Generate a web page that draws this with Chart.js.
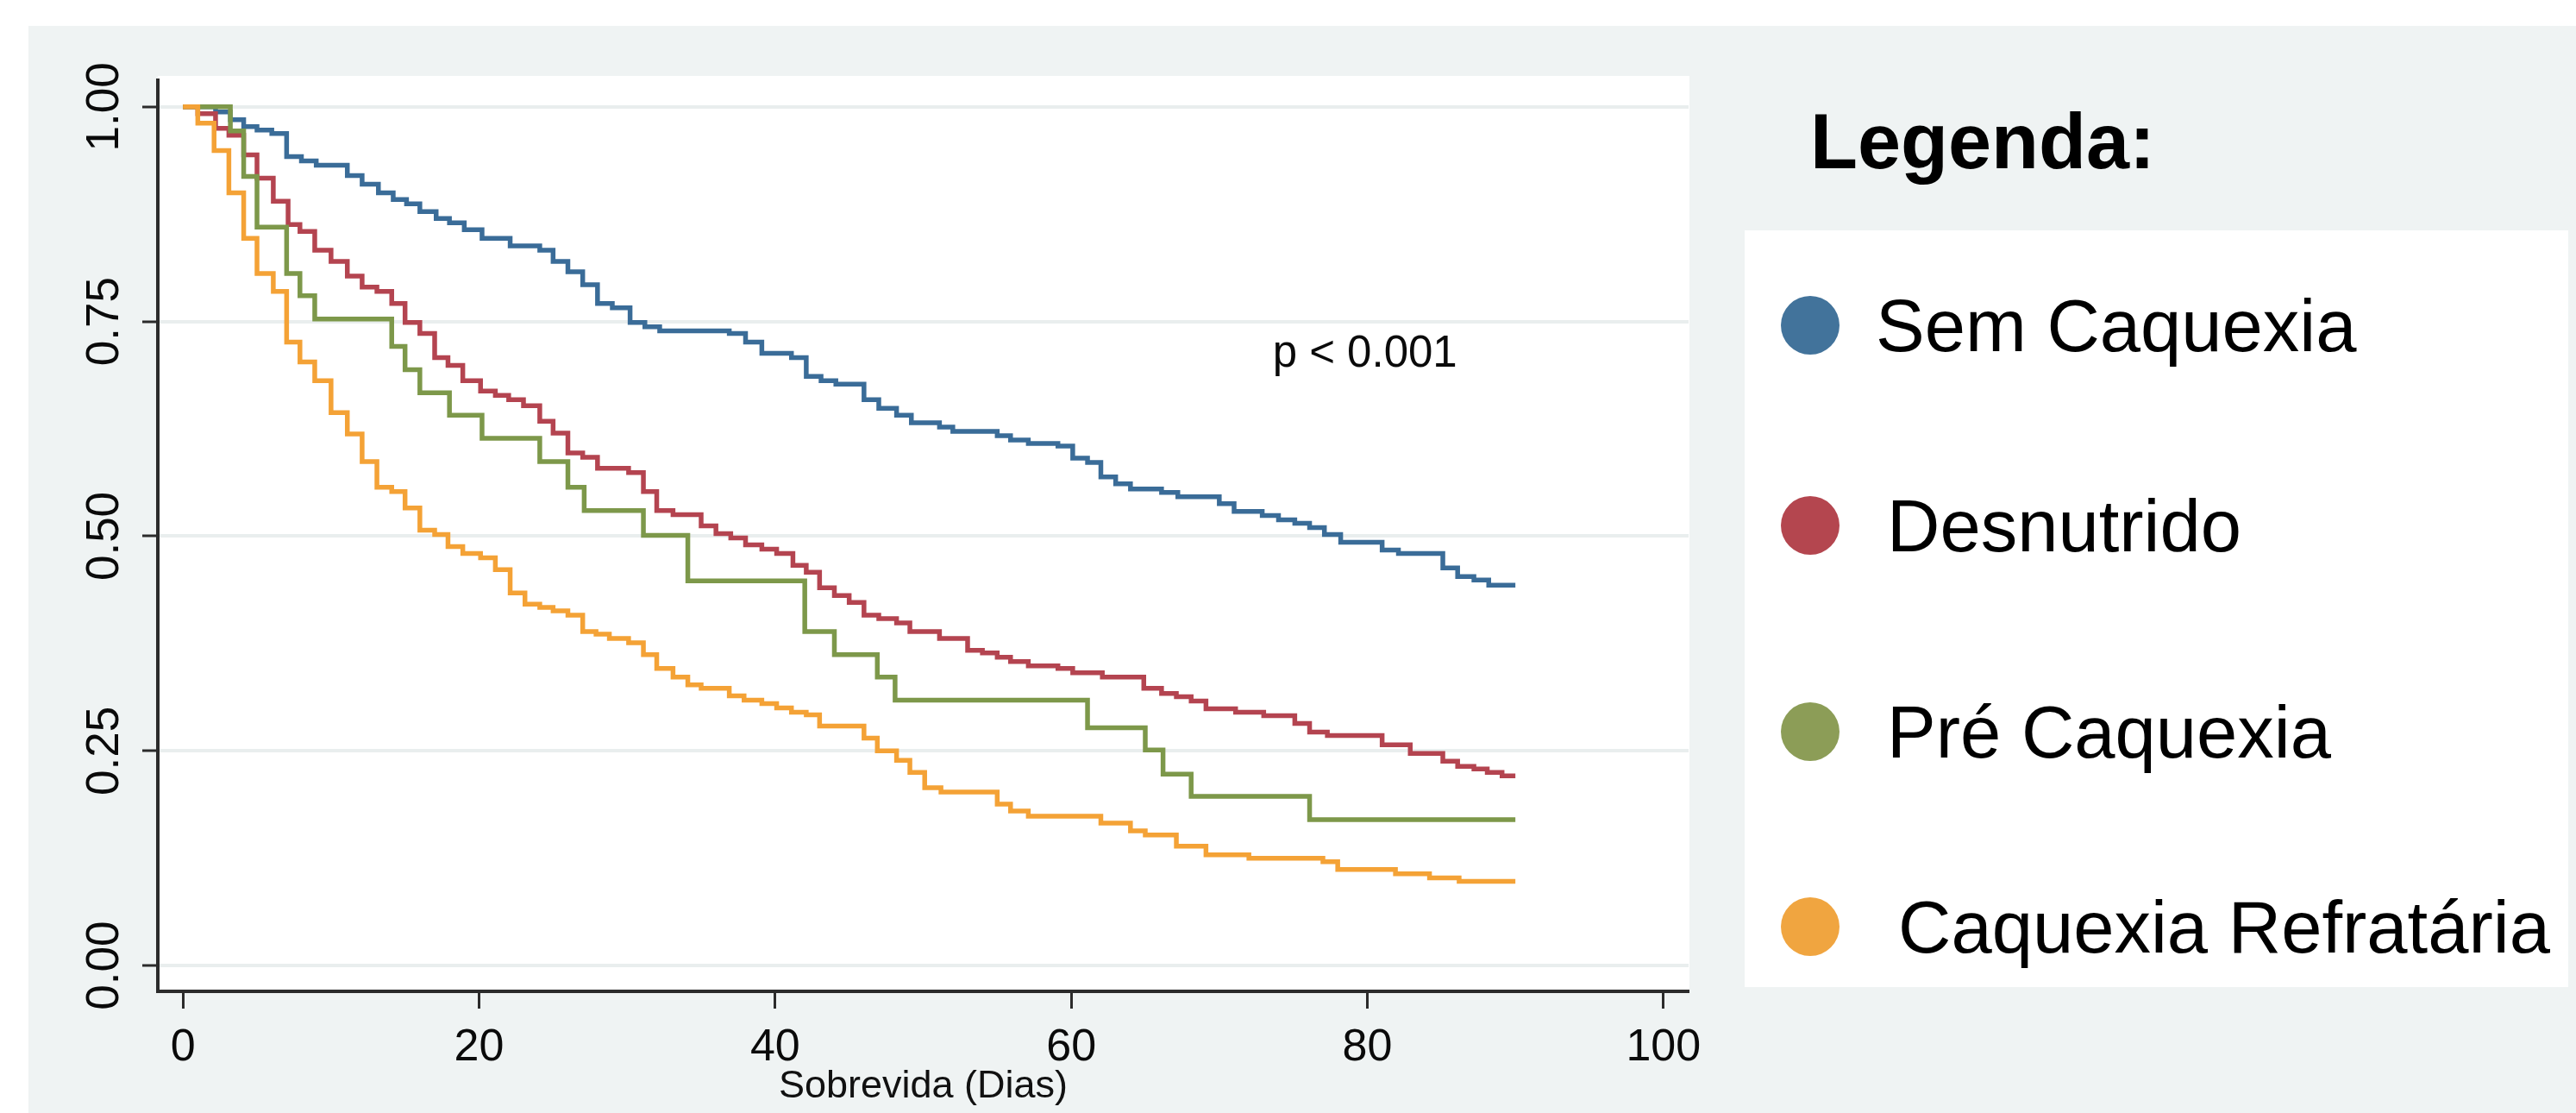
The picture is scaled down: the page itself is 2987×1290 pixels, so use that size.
<!DOCTYPE html>
<html>
<head>
<meta charset="utf-8">
<title>Sobrevida</title>
<script src="https://cdn.jsdelivr.net/npm/chart.js@4.4.1/dist/chart.umd.min.js"></script>
<style>
  html, body { margin: 0; padding: 0; background: #fff; }
  body { width: 2987px; height: 1290px; position: relative; overflow: hidden; font-family: "Liberation Sans", Arial, sans-serif; }
  .panel { position: absolute; left: 33px; top: 30px; right: 0; bottom: 0; background: #eff3f3; }
  .wrap { position: absolute; left: 0; top: 0; width: 2987px; height: 1290px; }
  .legend-title { position: absolute; left: 2099px; top: 119px; font-weight: bold; font-size: 90px; line-height: 90px; color: #000; }
  .legend-box { position: absolute; left: 2023px; top: 267px; width: 955px; height: 877px; background: #fff; }
  .item { position: absolute; font-size: 85px; line-height: 85px; color: #000; white-space: nowrap; }
  .dot { position: absolute; width: 68px; height: 68px; border-radius: 50%; }
</style>
</head>
<body>
<div class="panel"></div>
<div class="wrap"><canvas id="kmChart" width="2987" height="1290"></canvas></div>
<div class="legend-title">Legenda:</div>
<div class="legend-box"></div>
<div id="legend"></div>
<script>
// categorias
var seriesNames = ['Sem Caquexia', 'Desnutrido', 'Pré Caquexia', 'Caquexia Refratária'];

// Sem Caquexia
var semT = [0, 2.2, 3.2, 4.1, 5.0, 6.0, 7.0, 8.0, 9.0, 11.1, 12.1, 13.2, 14.2, 15.1, 16.0, 17.1, 18.0, 19.0, 20.2, 22.1,
  24.1, 25.0, 26.0, 27.0, 28.0, 29.0, 30.2, 31.2, 32.2, 36.9, 38.0, 39.1, 41.1, 42.1, 43.1, 44.1, 46.0, 47.0, 48.2, 49.2,
  51.1, 52.0, 55.0, 55.9, 57.1, 59.1, 60.1, 61.1, 62.0, 63.0, 64.0, 66.1, 67.2, 70.0, 71.0, 72.9, 74.0, 75.1, 76.1, 77.1,
  78.2, 81.0, 82.1, 85.1, 86.1, 87.2, 88.2, 90.0];
var semS = [1, 0.994, 0.985, 0.977, 0.973, 0.969, 0.942, 0.937, 0.932, 0.920, 0.910, 0.900, 0.892, 0.887, 0.878, 0.870, 0.865, 0.857, 0.847, 0.838,
  0.833, 0.820, 0.808, 0.793, 0.771, 0.766, 0.749, 0.744, 0.739, 0.736, 0.726, 0.713, 0.708, 0.686, 0.681, 0.677, 0.659, 0.649, 0.641, 0.632,
  0.627, 0.622, 0.617, 0.612, 0.608, 0.605, 0.591, 0.586, 0.569, 0.561, 0.555, 0.551, 0.546, 0.538, 0.529, 0.524, 0.519, 0.515, 0.510, 0.502,
  0.493, 0.484, 0.480, 0.463, 0.453, 0.449, 0.443, 0.443];

// Desnutrido
var desT = [0, 1.0, 2.2, 3.1, 4.1, 5.0, 6.1, 7.1, 7.9, 8.9, 10.0, 11.1, 12.1, 13.1, 14.1, 15.0, 16.0, 17.0, 17.9, 18.9,
  20.1, 21.1, 22.0, 23.0, 24.1, 25.0, 26.0, 27.0, 28.0, 30.1, 31.1, 32.0, 33.1, 35.0, 36.0, 37.0, 38.0, 39.1, 40.1, 41.2,
  42.1, 43.0, 44.0, 45.0, 46.0, 47.0, 48.2, 49.1, 51.1, 53.0, 54.0, 55.0, 55.9, 57.1, 59.1, 60.1, 62.1, 64.9, 66.1, 67.1,
  68.1, 69.1, 71.1, 73.0, 75.1, 76.1, 77.3, 81.0, 82.9, 85.1, 86.1, 87.2, 88.1, 89.1, 90.0];
var desS = [1, 0.992, 0.975, 0.967, 0.944, 0.917, 0.890, 0.863, 0.855, 0.833, 0.820, 0.803, 0.790, 0.785, 0.771, 0.749, 0.736, 0.708, 0.699, 0.681,
  0.669, 0.664, 0.659, 0.652, 0.634, 0.620, 0.597, 0.592, 0.579, 0.574, 0.552, 0.530, 0.525, 0.512, 0.503, 0.498, 0.490, 0.485, 0.480, 0.466,
  0.458, 0.440, 0.431, 0.423, 0.408, 0.404, 0.399, 0.389, 0.381, 0.367, 0.364, 0.359, 0.354, 0.349, 0.346, 0.341, 0.336, 0.323, 0.317, 0.313,
  0.308, 0.299, 0.295, 0.291, 0.282, 0.272, 0.268, 0.257, 0.247, 0.238, 0.232, 0.229, 0.225, 0.221, 0.221];

// Pré Caquexia
var preT = [0, 3.2, 4.1, 5.0, 7.0, 7.9, 8.9, 14.1, 15.0, 16.0, 18.0, 20.2, 24.1, 26.0, 27.1, 31.1, 34.1, 42.0, 44.0, 46.9,
  48.1, 61.1, 65.0, 66.2, 68.1, 76.1, 90.0];
var preS = [1, 0.972, 0.919, 0.860, 0.806, 0.780, 0.753, 0.721, 0.694, 0.667, 0.641, 0.614, 0.587, 0.557, 0.530, 0.501, 0.448, 0.389, 0.362, 0.336,
  0.309, 0.277, 0.251, 0.223, 0.197, 0.170, 0.170];

// Caquexia Refratária
var refT = [0, 1.0, 2.1, 3.1, 4.1, 5.0, 6.1, 7.0, 7.9, 8.9, 10.0, 11.1, 12.1, 13.1, 14.1, 15.0, 16.0, 17.0, 17.9, 18.9,
  20.1, 21.1, 22.1, 23.1, 24.1, 25.0, 26.0, 27.0, 27.9, 28.8, 30.1, 31.1, 32.0, 33.1, 34.1, 35.0, 36.9, 37.9, 39.1, 40.1,
  41.1, 42.1, 43.0, 46.0, 46.9, 48.2, 49.1, 50.1, 51.2, 55.0, 55.9, 57.1, 62.0, 64.0, 65.0, 67.1, 69.1, 72.0, 77.0, 78.0,
  81.9, 84.2, 86.2, 90.0];
var refS = [1, 0.981, 0.949, 0.900, 0.847, 0.806, 0.785, 0.726, 0.703, 0.681, 0.644, 0.619, 0.587, 0.557, 0.552, 0.533, 0.507, 0.502, 0.488, 0.480,
  0.475, 0.461, 0.434, 0.421, 0.417, 0.413, 0.408, 0.389, 0.386, 0.381, 0.376, 0.362, 0.346, 0.336, 0.327, 0.323, 0.314, 0.309, 0.305, 0.300,
  0.295, 0.292, 0.279, 0.265, 0.250, 0.239, 0.225, 0.207, 0.202, 0.188, 0.180, 0.174, 0.166, 0.157, 0.152, 0.139, 0.129, 0.125, 0.121, 0.112,
  0.107, 0.102, 0.098, 0.098];

var xTicks = [0, 20, 40, 60, 80, 100];
var yTicks = [0, 0.25, 0.5, 0.75, 1];
var pText = 'p < 0.001';

(function(){
  'use strict';

  var lineColors = ['#3a6c98', '#b44450', '#7d984a', '#f4a236'];
  var dotColors = ['#42739b', '#b4464f', '#8c9d57', '#f0a540'];
  var font = '"Liberation Sans", Arial, sans-serif';

  function pts(t, s){
    return t.map(function(v, i){ return { x: v, y: s[i] }; });
  }

  function buildLegend(){
    var rowY = [377, 609, 848, 1074];
    var textX = [2175, 2188, 2188, 2201];
    var box = document.getElementById('legend');
    seriesNames.forEach(function(name, i){
      var dot = document.createElement('div');
      dot.className = 'dot';
      dot.style.left = (2099 - 34) + 'px';
      dot.style.top = (rowY[i] - 34) + 'px';
      dot.style.background = dotColors[i];
      box.appendChild(dot);
      var txt = document.createElement('div');
      txt.className = 'item';
      txt.style.left = textX[i] + 'px';
      txt.style.top = (rowY[i] - 42) + 'px';
      txt.textContent = name;
      box.appendChild(txt);
    });
  }

  var plotBg = {
    id: 'plotBg',
    beforeDraw: function(chart){
      var a = chart.chartArea, ctx = chart.ctx;
      ctx.save();
      ctx.fillStyle = '#ffffff';
      ctx.fillRect(a.left, a.top - 5, a.right - a.left + 1, a.bottom - a.top + 5);
      ctx.restore();
    }
  };

  var yTickLabels = {
    id: 'yTickLabels',
    afterDraw: function(chart){
      var s = chart.scales.y, ctx = chart.ctx;
      ctx.save();
      ctx.font = '53px ' + font;
      ctx.fillStyle = '#0a0a0a';
      ctx.textAlign = 'center';
      ctx.textBaseline = 'alphabetic';
      s.ticks.forEach(function(t){
        ctx.save();
        ctx.translate(s.right - 46, s.getPixelForValue(t.value));
        ctx.rotate(-Math.PI / 2);
        ctx.fillText(t.value.toFixed(2), 0, 0);
        ctx.restore();
      });
      ctx.restore();
    }
  };

  var pValueLabel = {
    id: 'pValueLabel',
    afterDatasetsDraw: function(chart){
      var ctx = chart.ctx, x = chart.scales.x, y = chart.scales.y;
      ctx.save();
      ctx.font = '51px ' + font;
      ctx.fillStyle = '#0a0a0a';
      ctx.textBaseline = 'alphabetic';
      ctx.fillText(pText, x.getPixelForValue(73.6), y.getPixelForValue(0.697));
      ctx.restore();
    }
  };

  function initChart(){
    var series = [[semT, semS], [desT, desS], [preT, preS], [refT, refS]];
    var datasets = series.map(function(d, i){
      return {
        label: seriesNames[i],
        data: pts(d[0], d[1]),
        borderColor: lineColors[i],
        borderWidth: 5.5,
        pointRadius: 0,
        pointHoverRadius: 0,
        stepped: 'before',
        fill: false,
        order: 3 - i
      };
    });

    new Chart(document.getElementById('kmChart'), {
      type: 'line',
      data: { datasets: datasets },
      plugins: [plotBg, yTickLabels, pValueLabel],
      options: {
        responsive: false,
        animation: false,
        devicePixelRatio: 1,
        layout: { padding: { left: 0, top: 93, right: 1029, bottom: 0 } },
        plugins: { legend: { display: false }, tooltip: { enabled: false } },
        scales: {
          x: {
            type: 'linear',
            min: -1.7,
            max: 101.7,
            afterBuildTicks: function(s){ s.ticks = xTicks.map(function(v){ return { value: v }; }); },
            afterFit: function(s){ s.height = 141; },
            ticks: {
              font: { size: 52, family: font },
              color: '#0a0a0a',
              padding: 14,
              maxRotation: 0,
              callback: function(v){ return String(v); }
            },
            grid: { drawOnChartArea: false, drawTicks: true, tickLength: 20, tickColor: '#2b2b2b', tickWidth: 3 },
            border: { display: true, color: '#2b2b2b', width: 4 },
            title: {
              display: true,
              text: 'Sobrevida (Dias)',
              font: { size: 45, family: font },
              color: '#111',
              padding: { top: 0, bottom: 3 }
            }
          },
          y: {
            type: 'linear',
            min: -0.03,
            max: 1.031,
            afterBuildTicks: function(s){ s.ticks = yTicks.map(function(v){ return { value: v }; }); },
            afterFit: function(s){ s.width = 183; },
            ticks: { display: false },
            grid: { color: '#e9eeee', lineWidth: 4, drawTicks: true, tickLength: 18, tickColor: '#2b2b2b', tickWidth: 3 },
            border: { display: true, color: '#2b2b2b', width: 4 }
          }
        }
      }
    });
  }

  document.addEventListener('DOMContentLoaded', function(){
    buildLegend();
    initChart();
  });
})();
</script>
</body>
</html>
